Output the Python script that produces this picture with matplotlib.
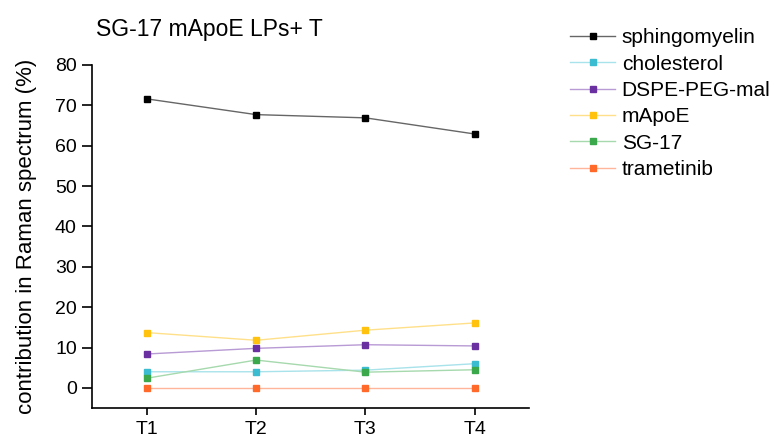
import numpy as np
import matplotlib.pyplot as plt

plt.rcParams['font.family'] = ['Liberation Sans', 'DejaVu Sans']

times = ['T1', 'T2', 'T3', 'T4']
sphingomyelin = [71.6, 67.7, 66.9, 62.9]
cholesterol = [4.0, 4.0, 4.4, 6.0]
dspe_peg_mal = [8.4, 9.8, 10.7, 10.4]
mapoe = [13.7, 11.8, 14.3, 16.1]
sg17 = [2.4, 6.9, 3.9, 4.5]
trametinib = [0.0, 0.0, 0.0, 0.0]

series = [
    ('sphingomyelin', sphingomyelin, '#000000', '#666666'),
    ('cholesterol', cholesterol, '#3bbcd0', '#a8e2ea'),
    ('DSPE-PEG-mal', dspe_peg_mal, '#6a2fa0', '#b89ad4'),
    ('mApoE', mapoe, '#ffc20e', '#ffe08a'),
    ('SG-17', sg17, '#3aa84b', '#a6d9ad'),
    ('trametinib', trametinib, '#ff6a2a', '#ffb59a'),
]

fig = plt.figure(figsize=(7.74, 4.36), dpi=100)
ax = fig.add_axes([0.119, 0.064, 0.565, 0.787])

x = np.arange(1, len(times) + 1)
for name, vals, mc, lc in series:
    ax.plot(x, vals, color=lc, lw=1.0, marker='s', markersize=4.5,
            markerfacecolor=mc, markeredgecolor=mc, label=name)

ax.set_xlim(0.5, 4.5)
ax.set_ylim(-5, 80)
ax.set_xticks(x)
ax.set_xticklabels(times)
ax.set_yticks(range(0, 81, 10))
ax.tick_params(direction='out', width=1.2, labelsize=14)
ax.tick_params(axis='y', length=7.5, pad=3.5)
ax.tick_params(axis='x', length=5, pad=4)
for s in ['top', 'right']:
    ax.spines[s].set_visible(False)
for s in ['left', 'bottom']:
    ax.spines[s].set_linewidth(1.2)

ax.set_ylabel('contribution in Raman spectrum (%)', fontsize=16, labelpad=13)
fig.text(0.124, 0.918, 'SG-17 mApoE LPs+ T', fontsize=16.5)

ax.legend(loc='upper left', bbox_to_anchor=(0.736, 0.935), bbox_transform=fig.transFigure,
          frameon=False, fontsize=15, handlelength=2.2, labelspacing=0.35,
          handletextpad=0.3, borderaxespad=0, borderpad=0)

fig.savefig('out.png', dpi=100)
